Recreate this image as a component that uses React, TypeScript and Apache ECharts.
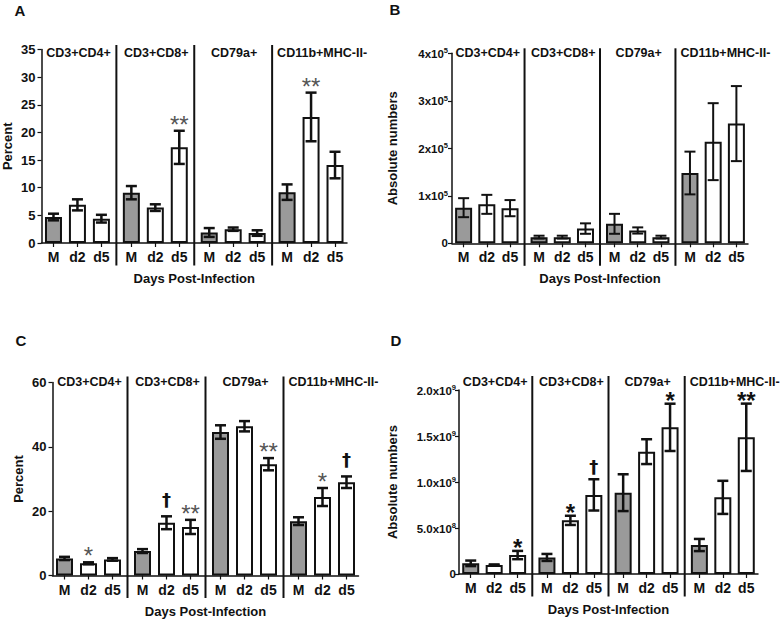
import React, { useEffect, useRef } from "react";
import * as echarts from "echarts";

// ---------- data ----------
const groups = ["CD3+CD4+", "CD3+CD8+", "CD79a+", "CD11b+MHC-II-"];
const days = ["M", "d2", "d5"];

// Panel A: Percent
const aMean = [4.7, 6.9, 4.4, 9.1, 6.4, 17.3, 1.9, 2.5, 1.8, 9.2, 22.8, 14.1];
const aErr = [0.6, 1.0, 0.7, 1.2, 0.6, 3.0, 0.8, 0.3, 0.5, 1.4, 4.4, 2.4];
const aSig = ["", "", "", "", "", "**", "", "", "", "", "**", ""];

// Panel B: Absolute numbers
const bMean = [75000, 82000, 74000, 13000, 13000, 31000, 41000, 27000, 13000, 148000, 214000, 252000];
const bErr = [20000, 20000, 17000, 3000, 3000, 11000, 21000, 6500, 3000, 45000, 81000, 79000];
const bSig = ["", "", "", "", "", "", "", "", "", "", "", ""];

// Panel C: Percent
const cMean = [5.3, 3.8, 5.0, 7.6, 16.4, 15.1, 44.6, 46.4, 34.6, 16.9, 24.4, 29.0];
const cErr = [0.5, 0.3, 0.4, 0.6, 2.0, 2.2, 2.1, 1.6, 1.9, 1.2, 2.8, 1.8];
const cSig = ["", "*", "", "", "†", "**", "", "", "**", "", "*", "†"];

// Panel D: Absolute numbers
const dMean = [1.16e8, 0.98e8, 2.06e8, 1.8e8, 5.83e8, 8.6e8, 8.84e8, 1.33e9, 1.594e9, 3.15e8, 8.33e8, 1.486e9];
const dErr = [0.3e8, 0.06e8, 0.45e8, 0.38e8, 0.5e8, 1.7e8, 2.0e8, 1.35e8, 2.57e8, 0.66e8, 1.8e8, 3.66e8];
const dSig = ["", "", "*", "", "*", "†", "", "", "*", "", "", "**"];

const aTicks = { max: 35, interval: 5 };
const bTicks = { max: 400000, interval: 100000 };
const cTicks = { max: 60, interval: 20 };
const dTicks = { max: 2e9, interval: 5e8 };

// ---------- layout helpers ----------
const FONT = '"Liberation Sans", Arial, Helvetica, sans-serif';
const DAGGER_FONT = '"DejaVu Sans", "Liberation Sans", sans-serif';
const INK = "#111";
const SLOTS = 52;
const slotOf = (g: number, j: number) => g * 13 + 2 + j * 4;
const slotIdx = (i: number) => slotOf(Math.floor(i / 3), i % 3);
const categories: string[] = Array.from({ length: SLOTS }, (_, i) => {
  const k = i - 2;
  if (k < 0) return "";
  const g = Math.floor(k / 13);
  const r = k - g * 13;
  if (g < 4 && r % 4 === 0 && r <= 8) return days[r / 4];
  return "";
});

const supFmt = (v: number) => {
  if (v === 0) return "{b|0}";
  if (v < 1e6) return `{b|${v / 1e5}x10}{s|5}`;
  if (v < 1e9) return `{b|${(v / 1e8).toFixed(1)}x10}{s|8}`;
  return `{b|${(v / 1e9).toFixed(1)}x10}{s|9}`;
};

const panels: any[] = [
  {
    letter: "A", lx: 20, ly: 10,
    grid: { left: 41, top: 49.5, width: 306, height: 193.5 },
    mean: aMean, err: aErr, sig: aSig, ticks: aTicks,
    yName: "Percent", yNameGap: 27.5, tickMargin: 6, sup: false,
    sepTop: -4.5, labelOffset: 3.8, gap: 8, starColor: "#555", starBold: false, errWidth: 2.5,
  },
  {
    letter: "B", lx: 395, ly: 9,
    grid: { left: 452, top: 53.3, width: 296, height: 190 },
    mean: bMean, err: bErr, sig: bSig, ticks: bTicks,
    yName: "Absolute numbers", yNameGap: 53.5, tickMargin: 4, sup: true,
    sepTop: -5, labelOffset: -0.8, gap: 8, starColor: INK, starBold: true, errWidth: 2,
  },
  {
    letter: "C", lx: 21, ly: 340,
    grid: { left: 52.5, top: 382.5, width: 306, height: 193 },
    mean: cMean, err: cErr, sig: cSig, ticks: cTicks,
    yName: "Percent", yNameGap: 27.7, tickMargin: 6, sup: false,
    sepTop: -6, labelOffset: -0.8, gap: 8.5, starColor: "#555", starBold: false, errWidth: 2.5,
  },
  {
    letter: "D", lx: 396, ly: 340,
    grid: { left: 459, top: 390, width: 299, height: 184 },
    mean: dMean, err: dErr, sig: dSig, ticks: dTicks,
    yName: "Absolute numbers", yNameGap: 60.5, tickMargin: 3, sup: true,
    sepTop: -14, labelOffset: -8.3, gap: 5, starColor: INK, starBold: true, errWidth: 2.5,
  },
];

function buildOption() {
  const grid: any[] = [];
  const xAxis: any[] = [];
  const yAxis: any[] = [];
  const series: any[] = [];
  const graphic: any[] = [];

  panels.forEach((p, idx) => {
    grid.push({ ...p.grid, containLabel: false });
    xAxis.push({
      gridIndex: idx,
      type: "category",
      data: categories,
      boundaryGap: false,
      axisLine: { show: true, lineStyle: { color: INK, width: 1.5 } },
      axisTick: {
        show: true,
        interval: (_i: number, v: string) => v !== "",
        length: 4,
        lineStyle: { color: INK, width: 1.2 },
      },
      axisLabel: {
        interval: (_i: number, v: string) => v !== "",
        margin: 7,
        fontSize: 14,
        fontWeight: "bold",
        color: INK,
        fontFamily: FONT,
      },
      splitLine: { show: false },
      name: "Days Post-Infection",
      nameLocation: "middle",
      nameGap: 29,
      nameTextStyle: { fontSize: 13, fontWeight: "bold", color: INK, fontFamily: FONT },
    });
    yAxis.push({
      gridIndex: idx,
      type: "value",
      min: 0,
      max: p.ticks.max,
      interval: p.ticks.interval,
      axisLine: { show: true, lineStyle: { color: INK, width: 1.5 } },
      axisTick: { show: true, length: 4, lineStyle: { color: INK, width: 1.2 } },
      splitLine: { show: false },
      axisLabel: p.sup
        ? {
            margin: p.tickMargin,
            formatter: supFmt,
            rich: {
              b: { fontSize: 11.5, fontWeight: "bold", color: INK, fontFamily: FONT, verticalAlign: "bottom" },
              s: { fontSize: 7.5, fontWeight: "bold", color: INK, fontFamily: FONT, verticalAlign: "top", padding: [0, 0, 5, 0] },
            },
          }
        : {
            margin: p.tickMargin,
            fontSize: 13,
            fontWeight: "bold",
            color: INK,
            fontFamily: FONT,
          },
      name: p.yName,
      nameLocation: "middle",
      nameGap: p.yNameGap,
      nameRotate: 90,
      nameTextStyle: { fontSize: 13, fontWeight: "bold", color: INK, fontFamily: FONT },
    });

    // bars
    series.push({
      type: "bar",
      xAxisIndex: idx,
      yAxisIndex: idx,
      barWidth: 17,
      silent: true,
      z: 2,
      data: p.mean.map((m: number, i: number) => ({
        value: [slotIdx(i), m],
        itemStyle: {
          color: i % 3 === 0 ? "#9a9a9a" : "#ffffff",
          borderColor: INK,
          borderWidth: 2,
        },
      })),
    });

    // error bars + significance marks
    series.push({
      type: "custom",
      xAxisIndex: idx,
      yAxisIndex: idx,
      z: 10,
      silent: true,
      clip: false,
      data: p.mean.map((m: number, i: number) => [slotIdx(i), m, m - p.err[i], m + p.err[i]]),
      encode: { x: 0, y: [1, 2, 3] },
      renderItem: (params: any, api: any) => {
        const x = api.value(0);
        const top = api.coord([x, api.value(3)]);
        const bot = api.coord([x, api.value(2)]);
        const hw = 5.5;
        const st = { stroke: INK, lineWidth: p.errWidth };
        const children: any[] = [
          { type: "line", shape: { x1: top[0], y1: top[1], x2: bot[0], y2: bot[1] }, style: st },
          { type: "line", shape: { x1: top[0] - hw, y1: top[1], x2: top[0] + hw, y2: top[1] }, style: st },
          { type: "line", shape: { x1: bot[0] - hw, y1: bot[1], x2: bot[0] + hw, y2: bot[1] }, style: st },
        ];
        const s = p.sig[params.dataIndex];
        if (s) {
          const dagger = s === "†";
          const fs = dagger ? 18 : 24;
          const y = dagger ? top[1] - p.gap + 1 : top[1] - p.gap + 0.573 * fs;
          children.push({
            type: "text",
            style: {
              text: s,
              x: top[0],
              y,
              align: "center",
              verticalAlign: "bottom",
              fontSize: fs,
              fontFamily: dagger ? DAGGER_FONT : FONT,
              fontWeight: dagger || p.starBold ? "bold" : "normal",
              fill: dagger ? INK : p.starColor,
            },
          });
        }
        return { type: "group", children };
      },
    });

    // group separators + group labels
    series.push({
      type: "custom",
      xAxisIndex: idx,
      yAxisIndex: idx,
      z: 8,
      silent: true,
      clip: false,
      data: groups.map((_, g) => [slotOf(g, 1), 0]),
      renderItem: (params: any, api: any) => {
        const g = params.dataIndex;
        const cs = params.coordSys;
        const children: any[] = [];
        let sepX = cs.x;
        if (g > 0) {
          sepX = (api.coord([slotOf(g - 1, 2), 0])[0] + api.coord([slotOf(g, 0), 0])[0]) / 2;
          children.push({
            type: "line",
            shape: { x1: sepX, y1: cs.y + p.sepTop, x2: sepX, y2: cs.y + cs.height + 22.5 },
            style: { stroke: INK, lineWidth: 2 },
          });
        }
        const last = g === groups.length - 1;
        const cx = last ? sepX + 5 : api.coord([slotOf(g, 1), 0])[0] + 1;
        children.push({
          type: "text",
          style: {
            text: groups[g],
            x: cx,
            y: cs.y + p.labelOffset,
            align: last ? "left" : "center",
            verticalAlign: "middle",
            fontSize: 12.5,
            fontWeight: "bold",
            fontFamily: FONT,
            fill: INK,
          },
        });
        return { type: "group", children };
      },
    });

    graphic.push({
      type: "text",
      x: p.lx,
      y: p.ly,
      style: {
        text: p.letter,
        align: "center",
        verticalAlign: "middle",
        fontSize: 15,
        fontWeight: "bold",
        fontFamily: FONT,
        fill: INK,
      },
    });
  });

  return {
    animation: false,
    backgroundColor: "#ffffff",
    grid,
    xAxis,
    yAxis,
    series,
    graphic,
  };
}

export default function App() {
  const ref = useRef<HTMLDivElement>(null);
  useEffect(() => {
    if (!ref.current) return;
    const chart = echarts.init(ref.current, undefined, { renderer: "svg" });
    chart.setOption(buildOption() as any);
    return () => chart.dispose();
  }, []);
  return (
    <div
      ref={ref}
      style={{ position: "absolute", left: 0, top: 0, width: 784, height: 622, background: "#fff" }}
    />
  );
}
